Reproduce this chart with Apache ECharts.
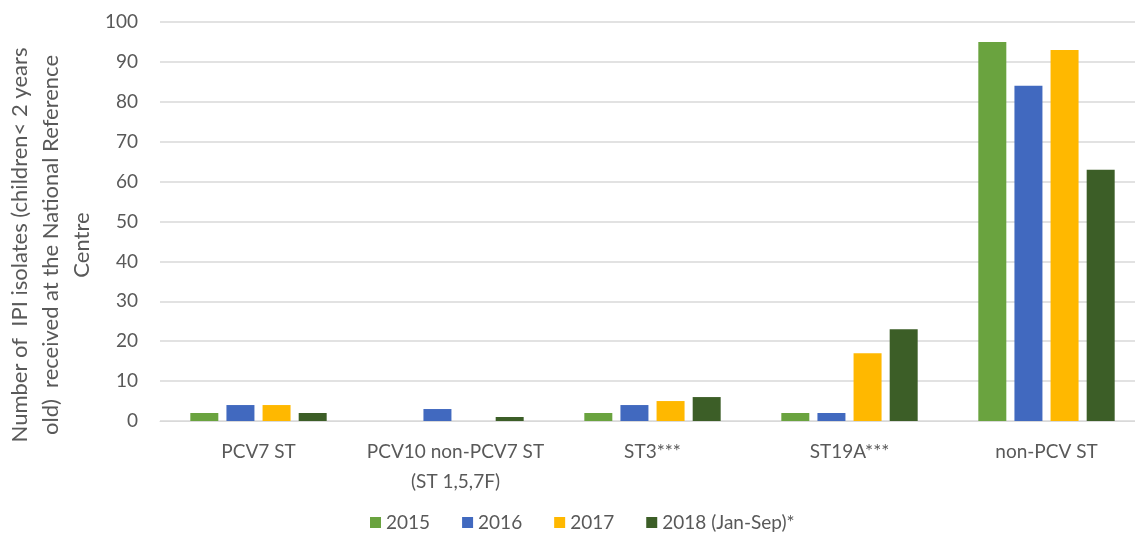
<!DOCTYPE html>
<html>
<head>
<meta charset="utf-8">
<script src="https://cdn.jsdelivr.net/npm/echarts@6/dist/echarts.min.js"></script>
<style>html,body{margin:0;padding:0;background:#fff;overflow:hidden}#c{width:1150px;height:539px}</style>
</head>
<body>
<div id="c"></div>
<script>
const categories = ['PCV7 ST', 'PCV10 non-PCV7 ST\n(ST 1,5,7F)', 'ST3***', 'ST19A***', 'non-PCV ST'];
const seriesNames = ['2015', '2016', '2017', '2018 (Jan-Sep)*'];
const v2015 = [2, 0, 2, 2, 95];
const v2016 = [4, 3, 4, 2, 84];
const v2017 = [4, 0, 5, 17, 93];
const v2018 = [2, 1, 6, 23, 63];
const yTicks = {min: 0, max: 100, interval: 10};
const yTitle = 'Number of  IPI isolates (children< 2 years\nold)  received at the National Reference\nCentre';

const colors = ['#6aa33f', '#4169bf', '#ffb800', '#3c5e27'];
const font = 'Lato, "Open Sans", sans-serif';
const textColor = '#595959';
const values = [v2015, v2016, v2017, v2018];

const chart = echarts.init(document.getElementById('c'), null, {renderer: 'canvas'});
chart.setOption({
  animation: false,
  color: colors,
  textStyle: {fontFamily: font},
  grid: {left: 160, right: 5, top: 22, bottom: 118, containLabel: false},
  legend: {
    bottom: 2, left: 365,
    itemWidth: 11, itemHeight: 11, itemGap: 32,
    icon: 'rect',
    textStyle: {fontSize: 19, color: textColor, fontFamily: font},
    data: seriesNames
  },
  xAxis: {
    type: 'category',
    data: categories,
    axisLine: {show: true, lineStyle: {color: '#d9d9d9', width: 1}},
    axisTick: {show: false},
    axisLabel: {interval: 0, fontSize: 19, color: textColor, margin: 16, lineHeight: 30, fontFamily: font}
  },
  yAxis: {
    type: 'value',
    min: yTicks.min, max: yTicks.max, interval: yTicks.interval,
    axisLine: {show: false},
    axisTick: {show: false},
    axisLabel: {fontSize: 19, color: textColor, margin: 22, fontFamily: font},
    splitLine: {lineStyle: {color: '#d9d9d9', width: 1.5}}
  },
  graphic: [{
    type: 'text',
    x: 51, y: 245,
    rotation: Math.PI / 2,
    style: {
      text: yTitle,
      fontSize: 22, fill: textColor, fontFamily: font,
      align: 'center', verticalAlign: 'middle', lineHeight: 31
    }
  }],
  series: values.map((d, i) => ({
    name: seriesNames[i],
    type: 'bar',
    data: d,
    barWidth: 28,
    barGap: '29%',
    itemStyle: {color: colors[i]}
  }))
});
</script>
</body>
</html>
